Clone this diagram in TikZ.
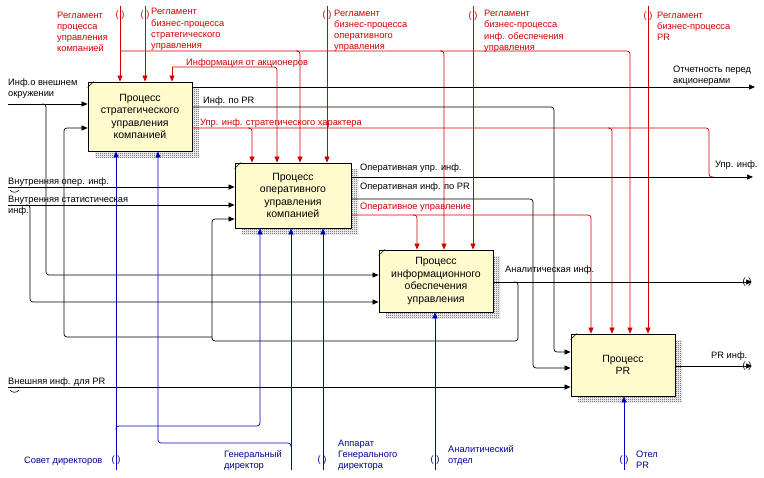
\documentclass[tikz,border=0pt]{standalone}
\usepackage{fontspec}
\setmainfont{Liberation Sans}
\usepackage{xcolor}
\usepackage{tikz}
\usetikzlibrary{arrows.meta,patterns,shadows}

\definecolor{ctlred}{RGB}{210,0,0}
\definecolor{mechblue}{RGB}{0,0,190}
\definecolor{mechtext}{RGB}{0,0,150}
\definecolor{boxfill}{RGB}{255,251,204}

\pgfdeclarepatternformonly{shadowdots}{\pgfqpoint{0pt}{0pt}}{\pgfqpoint{2pt}{2pt}}{\pgfqpoint{2pt}{2pt}}{%
  \pgfpathrectangle{\pgfqpoint{0pt}{0pt}}{\pgfqpoint{1pt}{1pt}}%
  \pgfpathrectangle{\pgfqpoint{1pt}{1pt}}{\pgfqpoint{1pt}{1pt}}%
  \pgfusepath{fill}}

\tikzset{
  procbox/.style={draw,line width=0.8pt,fill=boxfill,align=center,inner sep=0pt,
    font=\fontsize{10.5}{12.5}\selectfont,
    general shadow={shadow xshift=7pt,shadow yshift=-7pt,pattern=shadowdots,pattern color=black!75}},
  flow/.style={line width=0.7pt,rounded corners=3pt},
  arr/.style={-{Triangle[length=6pt,width=5pt]}},
  ctl/.style={flow,ctlred},
  mech/.style={flow,mechblue},
  lbl/.style={anchor=north west,inner sep=0pt,align=left,font=\fontsize{9.3}{11.3}\selectfont},
  tunnel/.style={inner sep=0pt,font=\fontsize{9.3}{11.3}\selectfont}
}

\begin{document}
\begin{tikzpicture}[x=1pt,y=-1pt]
\useasboundingbox[fill=white] (0,0) rectangle (764,478);

% boxes
\node[procbox,minimum width=104pt,minimum height=69pt] (strat) at (140,116.5) {Процесс\\стратегического\\управления\\компанией};
\node[procbox,minimum width=116pt,minimum height=65pt] (oper) at (293,195.5) {Процесс\\оперативного\\управления\\компанией};
\node[procbox,minimum width=114pt,minimum height=62pt] (info) at (436,281) {Процесс\\информационного\\обеспечения\\управления};
\node[procbox,minimum width=104pt,minimum height=62pt] (pr) at (623,365) {Процесс\\PR};
\foreach \b in {strat,oper,info,pr}
  \draw[line width=0.6pt] (\b.north west) ++(0,6) -- ++(6,-6);

% free ends
\coordinate (c1top) at (120,6);
\coordinate (c2top) at (145,6);
\coordinate (c4top) at (327,6);
\coordinate (c5top) at (473,6);
\coordinate (c6top) at (648,6);
\coordinate (c3) at (172,67);
\coordinate (m1bot) at (116,470);
\coordinate (m2bot) at (291,470);
\coordinate (m3bot) at (323,470);
\coordinate (m4bot) at (435,470);
\coordinate (m5bot) at (624,470);
\coordinate (i1in) at (8,104);
\coordinate (i2in) at (8,187);
\coordinate (i3in) at (8,205);
\coordinate (i4in) at (8,387);
\coordinate (o1out) at (755,87);
\coordinate (o4out) at (753,177);
\coordinate (o7out) at (752,282);
\coordinate (o8out) at (752,366);

% controls
\draw[ctl,arr] (c1top) -- (c1top |- strat.north);
\draw[ctl,arr] (120,51) -- (630,51) -- (630,0 |- pr.north);
\draw[ctl,arr] (296,51) -- (300,51) -- (300,0 |- oper.north);
\draw[ctl,arr] (440,51) -- (444,51) -- (444,0 |- info.north);
\draw[ctl,arr] (c2top) -- (c2top |- strat.north);
\draw[ctl,arr] (c3) -- (c3 |- strat.north);
\draw[ctl,arr] (c3) -- (277,67) -- (277,0 |- oper.north);
\draw[ctl,arr] (c4top) -- (c4top |- oper.north);
\draw[ctl,arr] (c5top) -- (c5top |- info.north);
\draw[ctl,arr] (c6top) -- (c6top |- pr.north);
\draw[ctl] (strat.east |- 0,128) -- (709,128) -- (709,177) -- (714,177);
\draw[ctl,arr] (248,128) -- (252,128) -- (252,0 |- oper.north);
\draw[ctl,arr] (608,128) -- (612,128) -- (612,0 |- pr.north);
\draw[ctl,arr] (oper.east |- 0,215) -- (591,215) -- (591,0 |- pr.north);
\draw[ctl,arr] (413,215) -- (417,215) -- (417,0 |- info.north);

% outputs
\draw[flow,arr] (strat.east |- o1out) -- (o1out);
\draw[flow,arr] (strat.east |- 0,107) -- (554,107) -- (554,352) -- (554,352 -| pr.west);
\draw[flow,arr] (oper.east |- o4out) -- (o4out);
\draw[flow,arr] (oper.east |- 0,199) -- (533,199) -- (533,368) -- (533,368 -| pr.west);
\draw[flow,arr] (info.east |- o7out) -- (o7out);
\draw[flow,arr] (514,282) -- (518,282) -- (518,341) -- (212,341) -- (212,219) -- (212,219 -| oper.west);
\draw[flow,arr] (212,337) -- (64,337) -- (64,128) -- (64,128 -| strat.west);
\draw[flow,arr] (pr.east |- o8out) -- (o8out);

% inputs
\draw[flow,arr] (i1in) -- (i1in -| strat.west);
\draw[flow,arr] (42,104) -- (46,104) -- (46,275) -- (46,275 -| info.west);
\draw[flow,arr] (i2in) -- (i2in -| oper.west);
\draw[flow,arr] (i3in) -- (i3in -| oper.west);
\draw[flow,arr] (26,205) -- (30,205) -- (30,302) -- (30,302 -| info.west);
\draw[flow,arr] (i4in) -- (i4in -| pr.west);
\draw[line width=0.6pt] (10,190) .. controls (12,193) and (17,193) .. (19,190);
\draw[line width=0.6pt] (10,390) .. controls (12,393) and (17,393) .. (19,390);

% mechanisms
\draw[mech,arr] (m1bot) -- (m1bot |- strat.south);
\draw[mech,arr] (116,430) -- (116,426) -- (260,426) -- (260,0 |- oper.south);
\draw[mech,arr] (m2bot) -- (m2bot |- oper.south);
\draw[mech,arr] (291,447) -- (291,443) -- (158,443) -- (158,0 |- strat.south);
\draw[mech,arr] (m3bot) -- (m3bot |- oper.south);
\draw[mech,arr] (m4bot) -- (m4bot |- info.south);
\draw[mech,arr] (m5bot) -- (m5bot |- pr.south);

% tunnels
\node[tunnel,ctlred] (t1) at (120,15) {( )};
\node[tunnel,ctlred] (t2) at (145,15) {( )};
\node[tunnel,ctlred] (t4) at (327,15) {( )};
\node[tunnel,ctlred] (t5) at (473,16) {( )};
\node[tunnel,ctlred] (t6) at (648,16) {( )};
\node[tunnel,mechtext] (t7) at (116,460) {( )};
\node[tunnel,mechtext] (t8) at (322,460) {( )};
\node[tunnel,mechtext] (t9) at (435,460) {( )};
\node[tunnel,mechtext] (t10) at (624,460) {( )};
\node[tunnel] (t11) at (747,282) {( )};
\node[tunnel] (t12) at (747,366) {( )};

% labels
\node[lbl,ctlred] (lc1) at (57,11.5) {Регламент\\процесса\\управления\\компанией};
\node[lbl,ctlred] (lc2) at (151,8.2) {Регламент\\бизнес-процесса\\стратегического\\управления};
\node[lbl,ctlred] (lc3) at (186,58.5) {Информация от акционеров};
\node[lbl,ctlred] (lc4) at (334,9.5) {Регламент\\бизнес-процесса\\оперативного\\управления};
\node[lbl,ctlred] (lc5) at (484,10) {Регламент\\бизнес-процесса\\инф. обеспечения\\управления};
\node[lbl,ctlred] (lc6) at (657,11.5) {Регламент\\бизнес-процесса\\PR};
\node[lbl,ctlred] (lo3) at (200,118.5) {Упр. инф. стратегического характера};
\node[lbl,ctlred] (lo6) at (360,202.5) {Оперативное управление};
\node[lbl] (li1) at (8,78.5) {Инф.о внешнем\\окружении};
\node[lbl] (li2) at (8,177.5) {Внутренняя опер. инф.};
\node[lbl] (li3) at (8,195.5) {Внутренняя статистическая\\инф.};
\node[lbl] (li4) at (8,377.5) {Внешняя инф. для PR};
\node[lbl] (lo1) at (673,65.5) {Отчетность перед\\акционерами};
\node[lbl] (lo2) at (203,96.5) {Инф. по PR};
\node[lbl] (lo4) at (360,163.5) {Оперативная упр. инф.};
\node[lbl] (lo4b) at (715,160.5) {Упр. инф.};
\node[lbl] (lo5) at (360,182.5) {Оперативная инф. по PR};
\node[lbl] (lo7) at (505,265.5) {Аналитическая инф.};
\node[lbl] (lo8) at (711,351.5) {PR инф.};
\node[lbl,mechtext] (lm1) at (24,456.5) {Совет директоров};
\node[lbl,mechtext] (lm2) at (224,450.5) {Генеральный\\директор};
\node[lbl,mechtext] (lm3) at (338,439.5) {Аппарат\\Генерального\\директора};
\node[lbl,mechtext] (lm4) at (448,445.5) {Аналитический\\отдел};
\node[lbl,mechtext] (lm5) at (636,450.5) {Отел\\PR};
\end{tikzpicture}
\end{document}
